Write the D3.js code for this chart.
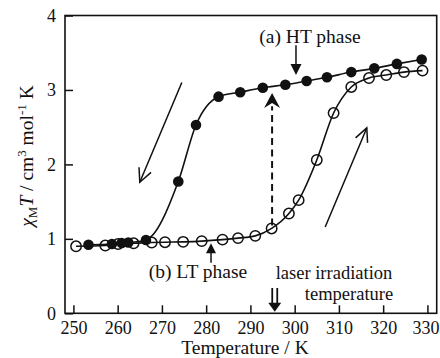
<!DOCTYPE html>
<html>
<head>
<meta charset="utf-8">
<script src="https://cdn.jsdelivr.net/npm/d3@7"></script>
<style>
  body { margin: 0; background: #fff; }
  text { font-family: "Liberation Serif", "DejaVu Serif", serif; fill: #111; }
</style>
</head>
<body>
<script>
var w = 440;
var h = 358;

// (a) HT phase, cooling (filled circles)
var coolT = [253.4, 258.7, 260.9, 262.4, 266.4, 273.7, 277.7, 282.8, 287.7, 292.8, 297.9, 302.7, 307.3, 312.8, 318.0, 323.1, 328.7];
var coolX = [0.92, 0.93, 0.945, 0.95, 0.985, 1.77, 2.53, 2.91, 2.97, 3.03, 3.07, 3.12, 3.17, 3.24, 3.29, 3.35, 3.41];

// (b) LT phase, heating (open circles)
var heatT = [250.6, 257.2, 260.1, 263.6, 267.7, 270.7, 274.8, 279.0, 283.7, 287.2, 291.1, 294.8, 298.7, 300.9, 305.0, 308.8, 312.8, 316.8, 320.7, 324.7, 328.9];
var heatX = [0.9, 0.91, 0.93, 0.94, 0.95, 0.955, 0.96, 0.97, 0.99, 1.01, 1.04, 1.14, 1.34, 1.52, 2.06, 2.69, 3.04, 3.16, 3.2, 3.24, 3.26];

var xTicks = [250, 260, 270, 280, 290, 300, 310, 320, 330];
var yTicks = [0, 1, 2, 3, 4];

var x = d3.scaleLinear().domain([248.1, 332.1]).range([65, 436.7]);
var y = d3.scaleLinear().domain([0, 4]).range([313.3, 15.5]);

var svg = d3.select("body")
            .append("svg")
            .attr("width", w)
            .attr("height", h);

// frame
svg.append("rect")
   .attr("x", x.range()[0])
   .attr("y", y.range()[1])
   .attr("width", x.range()[1] - x.range()[0])
   .attr("height", y.range()[0] - y.range()[1])
   .attr("fill", "none")
   .attr("stroke", "#111")
   .attr("stroke-width", 1.6);

var xAxis = svg.append("g")
   .attr("transform", "translate(0," + y(0) + ")")
   .call(d3.axisBottom(x).tickValues(xTicks).tickSizeInner(-8).tickSizeOuter(0).tickPadding(8));

var yAxis = svg.append("g")
   .attr("transform", "translate(" + x.range()[0] + ",0)")
   .call(d3.axisLeft(y).tickValues(yTicks).tickSizeInner(-8).tickSizeOuter(0).tickPadding(9).tickFormat(d3.format("d")));

[xAxis, yAxis].forEach(function(g){
  g.select(".domain").remove();
  g.selectAll("line").attr("stroke", "#111").attr("stroke-width", 1.5);
  g.selectAll("text").attr("font-size", 18).attr("font-family", "Liberation Serif").attr("fill", "#111");
});
// last x label sits against the window edge
xAxis.selectAll(".tick text").filter(function(d){ return d === 330; }).attr("dx", -1.8);

// axis titles
svg.append("text")
   .attr("x", 245)
   .attr("y", 354)
   .attr("text-anchor", "middle")
   .attr("font-size", 19.5)
   .text("Temperature / K");

var yl = svg.append("text")
   .attr("transform", "translate(33,156) rotate(-90)")
   .attr("text-anchor", "middle")
   .attr("font-size", 19.5);
yl.append("tspan").attr("font-style", "italic").text("χ");
yl.append("tspan").attr("font-size", 13).attr("dy", 4).text("M");
yl.append("tspan").attr("font-style", "italic").attr("dy", -4).text("T");
yl.append("tspan").text(" / cm");
yl.append("tspan").attr("font-size", 13).attr("dy", -7).text("3");
yl.append("tspan").attr("dy", 7).text(" mol");
yl.append("tspan").attr("font-size", 13).attr("dy", -7).text("-1");
yl.append("tspan").attr("dy", 7).text(" K");

// lines
var line = d3.line()
   .x(function(d){ return x(d[0]); })
   .y(function(d){ return y(d[1]); })
   .curve(d3.curveMonotoneX);

var cool = d3.zip(coolT, coolX);
var heat = d3.zip(heatT, heatX);

svg.append("path")
   .datum(heat)
   .attr("d", line)
   .attr("fill", "none")
   .attr("stroke", "#111")
   .attr("stroke-width", 1.6);

svg.append("path")
   .datum(cool)
   .attr("d", line)
   .attr("fill", "none")
   .attr("stroke", "#111")
   .attr("stroke-width", 1.6);

svg.selectAll("circle.heat")
   .data(heat)
   .enter()
   .append("circle")
   .attr("class", "heat")
   .attr("cx", function(d){ return x(d[0]); })
   .attr("cy", function(d){ return y(d[1]); })
   .attr("r", 5.2)
   .attr("fill", "none")
   .attr("stroke", "#111")
   .attr("stroke-width", 1.5);

svg.selectAll("circle.cool")
   .data(cool)
   .enter()
   .append("circle")
   .attr("class", "cool")
   .attr("cx", function(d){ return x(d[0]); })
   .attr("cy", function(d){ return y(d[1]); })
   .attr("r", 5.3)
   .attr("fill", "#111");

// dashed arrow (photo-excitation at 295 K)
var laserT = 294.9;
svg.append("line")
   .attr("x1", x(laserT)).attr("x2", x(laserT))
   .attr("y1", y(1.18)).attr("y2", y(2.78))
   .attr("stroke", "#111")
   .attr("stroke-width", 2)
   .attr("stroke-dasharray", "7,4.5");

function head(px, py, dir, len, half, notch) {
  // dir: +1 pointing up, -1 pointing down
  return "M" + px + "," + py +
         "L" + (px - half) + "," + (py + dir * len) +
         "L" + px + "," + (py + dir * (len - notch)) +
         "L" + (px + half) + "," + (py + dir * len) + "Z";
}

svg.append("path")
   .attr("d", head(x(laserT), y(2.96), 1, 15, 8, 5))
   .attr("fill", "#111");

// HT phase arrow
svg.append("line")
   .attr("x1", x(300.3)).attr("x2", x(300.3))
   .attr("y1", y(3.6)).attr("y2", y(3.32))
   .attr("stroke", "#111").attr("stroke-width", 1.5);
svg.append("path")
   .attr("d", head(x(300.3), y(3.2), -1, 11, 5.5, 0))
   .attr("fill", "#111");

svg.append("text")
   .attr("x", 310)
   .attr("y", 43)
   .attr("text-anchor", "middle")
   .attr("font-size", 19.5)
   .text("(a) HT phase");

// LT phase arrow
svg.append("line")
   .attr("x1", x(281.1)).attr("x2", x(281.1))
   .attr("y1", y(0.68)).attr("y2", y(0.86))
   .attr("stroke", "#111").attr("stroke-width", 1.5);
svg.append("path")
   .attr("d", head(x(281.1), y(0.94), 1, 10, 5, 0))
   .attr("fill", "#111");

svg.append("text")
   .attr("x", 198)
   .attr("y", 278)
   .attr("text-anchor", "middle")
   .attr("font-size", 19.5)
   .text("(b) LT phase");

svg.append("text")
   .attr("x", 334)
   .attr("y", 279)
   .attr("text-anchor", "middle")
   .attr("font-size", 18.5)
   .text("laser irradiation");

svg.append("text")
   .attr("x", 349)
   .attr("y", 299.5)
   .attr("text-anchor", "middle")
   .attr("font-size", 18.5)
   .text("temperature");

// double arrow at the irradiation temperature
var lx = x(295.5);
svg.append("line")
   .attr("x1", lx - 2.5).attr("x2", lx - 2.5)
   .attr("y1", y(0.34)).attr("y2", y(0.13))
   .attr("stroke", "#111").attr("stroke-width", 1.8);
svg.append("line")
   .attr("x1", lx + 2.5).attr("x2", lx + 2.5)
   .attr("y1", y(0.34)).attr("y2", y(0.13))
   .attr("stroke", "#111").attr("stroke-width", 1.8);
svg.append("path")
   .attr("d", head(lx, y(0.02), -1, 9, 6.5, 0))
   .attr("fill", "#111");

// hand-drawn hysteresis arrows
function openArrow(t0, v0, t1, v1) {
  var x0 = x(t0), y0 = y(v0), x1 = x(t1), y1 = y(v1);
  var a = Math.atan2(y1 - y0, x1 - x0);
  var L = 15, spread = 0.45;
  var g = svg.append("g").attr("stroke", "#111").attr("stroke-width", 1.5).attr("fill", "none");
  g.append("line").attr("x1", x0).attr("y1", y0).attr("x2", x1).attr("y2", y1);
  g.append("path").attr("d",
    "M" + (x1 - L * Math.cos(a - spread)) + "," + (y1 - L * Math.sin(a - spread)) +
    "L" + x1 + "," + y1 +
    "L" + (x1 - L * Math.cos(a + spread)) + "," + (y1 - L * Math.sin(a + spread)));
}
openArrow(274.5, 3.1, 265.0, 1.76);
openArrow(306.9, 1.16, 316.3, 2.49);
</script>
</body>
</html>
